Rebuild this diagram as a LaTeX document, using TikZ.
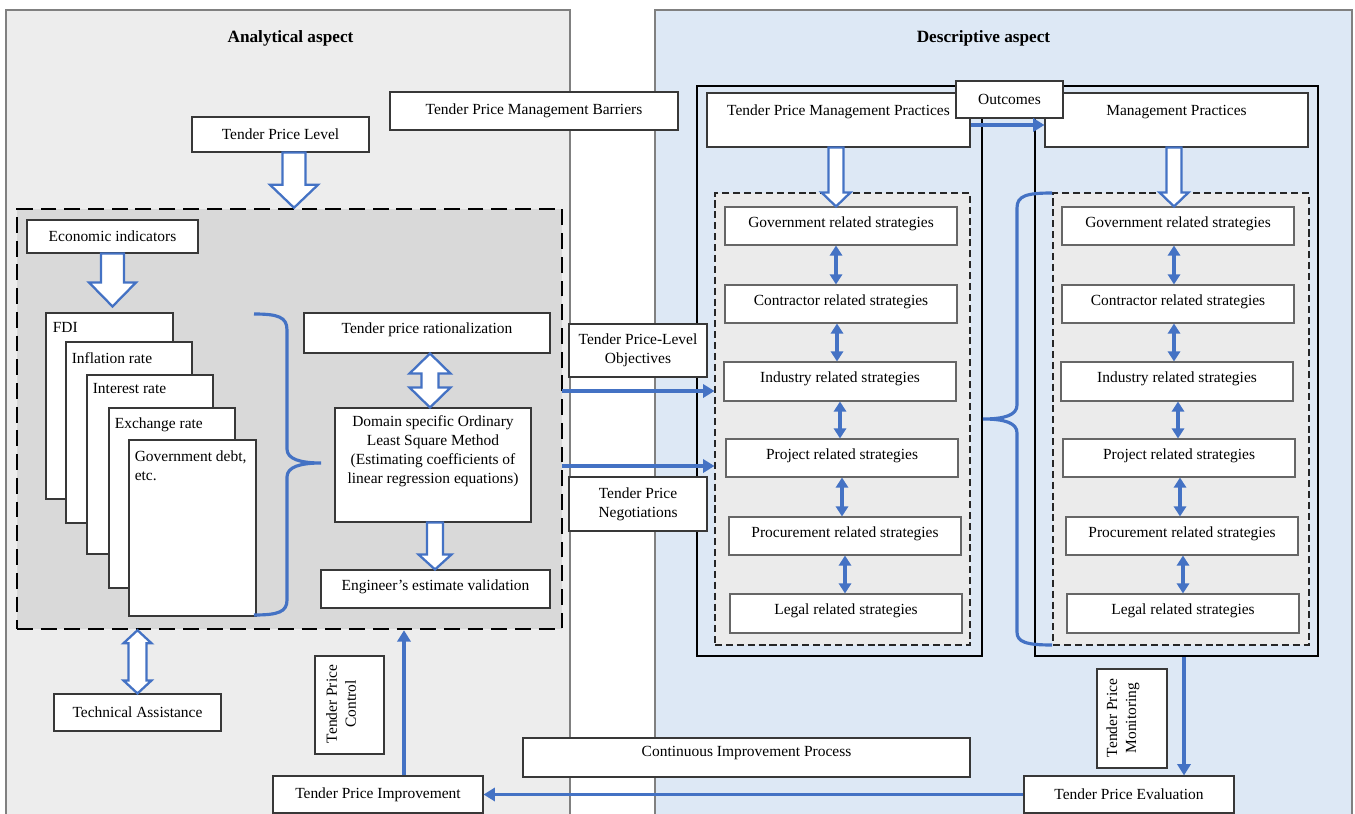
\documentclass[tikz,border=0pt]{standalone}
\usepackage{fontspec}
\setmainfont{Liberation Serif}
\usetikzlibrary{calc,arrows.meta}
\definecolor{lpanel}{RGB}{237,237,237}
\definecolor{rpanel}{RGB}{221,232,245}
\definecolor{dashfill}{RGB}{217,217,217}
\definecolor{innerfill}{RGB}{235,235,235}
\definecolor{myblue}{RGB}{68,114,196}
\tikzset{
 box/.style={draw=black!78, line width=0.6pt, fill=white, inner sep=0pt,
   font=\fontsize{8.8}{10.8}\selectfont, align=center},
 strat/.style={draw=black!60, text depth=4.5pt},
 panel/.style={draw=black!50, line width=0.6pt},
 outerbox/.style={draw=black, line width=1.4pt, fill=none},
 bigdash/.style={draw=black, line width=1.4pt, dash pattern=on 9pt off 4.5pt},
 smalldash/.style={draw=black!85, line width=0.6pt, dash pattern=on 4pt off 2.2pt},
 flow/.style={draw=myblue, line width=1.8pt, -{Triangle[width=7.5pt,length=6.5pt]}},
 flow2/.style={draw=myblue, line width=1.8pt, {Triangle[width=7pt,length=5.8pt]}-{Triangle[width=7pt,length=5.8pt]}},
 hollow/.style={draw=myblue, line width=1.3pt, fill=white, line join=miter},
 brace/.style={draw=myblue, line width=1.8pt},
 txt/.style={font=\fontsize{8.8}{10.8}\selectfont, inner sep=0pt},
 title/.style={font=\fontsize{9.8}{12}\selectfont\bfseries, inner sep=0pt},
}
% box by corners: name, x1, y1, x2, y2, options, text
\newcommand\rbox[7]{\node[box,minimum width={(#4-#2)*0.02cm},minimum height={(#5-#3)*0.02cm},#6] (#1) at ({(#2+#4)/2},{(#3+#5)/2}) {#7};}
% hollow arrow down: tail point, tip point, shaft half, head half, head length (px)
\newcommand\hdown[5]{\draw[hollow] let \p1=#1, \p2=#2 in
 (\x1-#3*0.02cm,\y1) -- (\x1-#3*0.02cm,\y2+#5*0.02cm) -- (\x1-#4*0.02cm,\y2+#5*0.02cm) -- (\x1,\y2)
 -- (\x1+#4*0.02cm,\y2+#5*0.02cm) -- (\x1+#3*0.02cm,\y2+#5*0.02cm) -- (\x1+#3*0.02cm,\y1) -- cycle;}
% hollow double arrow: top point, bottom point, shaft half, head half, head length
\newcommand\hboth[5]{\draw[hollow] let \p1=#1, \p2=#2 in
 (\x1,\y1) -- (\x1+#4*0.02cm,\y1-#5*0.02cm) -- (\x1+#3*0.02cm,\y1-#5*0.02cm) -- (\x1+#3*0.02cm,\y2+#5*0.02cm)
 -- (\x1+#4*0.02cm,\y2+#5*0.02cm) -- (\x1,\y2) -- (\x1-#4*0.02cm,\y2+#5*0.02cm) -- (\x1-#3*0.02cm,\y2+#5*0.02cm)
 -- (\x1-#3*0.02cm,\y1-#5*0.02cm) -- (\x1-#4*0.02cm,\y1-#5*0.02cm) -- cycle;}
% small double arrow between stacked boxes
\newcommand\link[3]{\draw[flow2] let \p1=($(#1.south)+(#3,0)$), \p2=(#2.north) in (\p1) -- (\x1,\y2);}

\begin{document}
\begin{tikzpicture}[x=0.02cm,y=-0.02cm]
\useasboundingbox (0,0) rectangle (1355,814);
% panels
\rbox{lp}{6}{10}{570}{830}{panel,fill=lpanel}{}
\rbox{rp}{655}{10}{1352}{830}{panel,fill=rpanel}{}
\node[title] (tl) at (290.5,38) {Analytical aspect};
\node[title] (tr) at (983.5,38) {Descriptive aspect};

% left analytical part
\rbox{dash}{17}{209}{562}{629}{bigdash,fill=dashfill}{}
\rbox{tpl}{192}{117}{369}{152}{}{Tender Price Level}
\rbox{econ}{27}{220}{198}{253}{}{Economic indicators}
\rbox{cardA}{46}{313}{173}{499}{}{}
\rbox{cardB}{66}{342}{192}{523}{}{}
\rbox{cardC}{87}{375}{213}{554}{}{}
\rbox{cardD}{109}{408}{235}{588}{}{}
\rbox{cardE}{129}{440}{256}{616}{}{}
\node[txt,anchor=north west] (tA) at ($(cardA.north west)+(7,10)$) {FDI};
\node[txt,anchor=north west] (tB) at ($(cardB.north west)+(6,10.5)$) {Inflation rate};
\node[txt,anchor=north west] (tC) at ($(cardC.north west)+(6,9)$) {Interest rate};
\node[txt,anchor=north west] (tD) at ($(cardD.north west)+(6,9.5)$) {Exchange rate};
\node[txt,anchor=north west,align=left] (tE) at ($(cardE.north west)+(6,10.5)$) {Government debt,\\etc.};
\draw[brace] (254,314) .. controls (278,314) and (287,317) .. (287,330) -- (287,449)
  .. controls (287,459) and (300,463) .. (321,463) .. controls (300,463) and (287,467) .. (287,477)
  -- (287,600) .. controls (287,612) and (278,615) .. (254,615);
\rbox{tpr}{304}{313}{550}{353}{text depth=6pt}{Tender price rationalization}
\rbox{ols}{335}{408}{531}{522}{}{}
\node[txt,align=center] (olst) at (433,451) {Domain specific Ordinary\\Least Square Method\\(Estimating coefficients of\\linear regression equations)};
\rbox{eev}{321}{570}{550}{608}{text depth=4pt}{Engineer’s estimate validation}
\rbox{ta}{54}{694}{221}{731}{}{Technical Assistance}
\rbox{tpc}{315}{656}{384}{754}{}{}
\node[txt,rotate=90,align=center] (tpct) at (341,704) {Tender Price\\Control};
\rbox{imp}{273}{776}{483}{813}{}{Tender Price Improvement}
\rbox{cip}{523}{738}{970}{777}{text depth=6.5pt}{Continuous Improvement Process}

% right descriptive part
\rbox{ob1}{697}{86}{982}{656}{outerbox}{}
\rbox{ob2}{1035}{86}{1318}{656}{outerbox}{}
\rbox{in1}{715}{193}{970}{645}{smalldash,fill=innerfill}{}
\rbox{in2}{1053}{193}{1309}{645}{smalldash,fill=innerfill}{}
\draw[brace] (1052,193) .. controls (1026,193) and (1017,196) .. (1017,208) -- (1017,405)
  .. controls (1017,415) and (1005,419) .. (983,419) .. controls (1005,419) and (1017,423) .. (1017,433)
  -- (1017,632) .. controls (1017,642) and (1026,645) .. (1052,645);
\rbox{g1}{725}{207}{957}{245}{strat}{Government related strategies}
\rbox{k1}{725}{285}{957}{323}{strat}{Contractor related strategies}
\rbox{n1}{724}{362}{956}{401}{strat}{Industry related strategies}
\rbox{p1}{726}{439}{958}{477}{strat}{Project related strategies}
\rbox{q1}{729}{517}{961}{555}{strat}{Procurement related strategies}
\rbox{l1}{730}{594}{962}{633}{strat}{Legal related strategies}
\rbox{g2}{1062}{207}{1294}{245}{strat}{Government related strategies}
\rbox{k2}{1062}{285}{1294}{323}{strat}{Contractor related strategies}
\rbox{n2}{1061}{362}{1293}{401}{strat}{Industry related strategies}
\rbox{p2}{1063}{439}{1295}{477}{strat}{Project related strategies}
\rbox{q2}{1066}{517}{1298}{555}{strat}{Procurement related strategies}
\rbox{l2}{1067}{594}{1299}{633}{strat}{Legal related strategies}
\rbox{tpmp}{707}{93}{970}{147}{text depth=11.5pt}{Tender Price Management Practices}
\rbox{mp}{1045}{93}{1308}{147}{text depth=11.5pt}{Management Practices}
\rbox{out}{956}{81}{1063}{118}{}{Outcomes}
\rbox{tpm}{1097}{669}{1167}{768}{}{}
\node[txt,rotate=90,align=center] (tpmt) at (1123,718) {Tender Price\\Monitoring};
\rbox{ev}{1024}{776}{1234}{813}{}{Tender Price Evaluation}

% boxes between the panels
\rbox{tpmb}{390}{92}{678}{130}{}{Tender Price Management Barriers}
\rbox{tplo}{569}{324}{707}{377}{}{Tender Price-Level\\Objectives}
\rbox{tpn}{569}{477}{707}{531}{}{Tender Price\\Negotiations}

% connectors
\link{g1}{k1}{-5}
\link{k1}{n1}{-4}
\link{n1}{p1}{0}
\link{p1}{q1}{0}
\link{q1}{l1}{0}
\link{g2}{k2}{-4}
\link{k2}{n2}{-4}
\link{n2}{p2}{1}
\link{p2}{q2}{1}
\link{q2}{l2}{1}
\coordinate (a1) at (562,391);
\coordinate (a2) at (562,466);
\draw[flow] (a1) -- (a1 -| in1.west);
\draw[flow] (a2) -- (a2 -| in1.west);
\draw[flow] ($(tpmp.east)+(0,5)$) -- ($(mp.west)+(0,5)$);
\coordinate (a3) at ($(ob2.south)+(7.5,0)$);
\draw[flow] (a3) -- (a3 |- ev.north);
\draw[flow] (ev.west) -- (imp.east);
\coordinate (a4) at ($(imp.north)+(26,0)$);
\draw[flow] (a4) -- (a4 |- dash.south);

% hollow arrows
\hdown{($(tpl.south)+(13.5,0)$)}{(dash.north)}{11.5}{24}{23}
\hdown{(econ.south)}{($(cardA.north)+(0,-6)$)}{11.5}{23.5}{24}
\hboth{($(tpr.south)+(3,0)$)}{(ols.north)}{8.5}{20.5}{20}
\hdown{($(ols.south)+(2,0)$)}{(eev.north)}{8}{16.5}{15}
\hboth{(dash.south -| ta.north)}{(ta.north)}{9}{14}{13}
\hdown{($(tpmp.south)+(-2.5,0)$)}{(g1.north)}{7.5}{14.5}{14}
\hdown{($(mp.south)+(-2.5,0)$)}{(g2.north)}{7.5}{14.5}{14}
\end{tikzpicture}
\end{document}
